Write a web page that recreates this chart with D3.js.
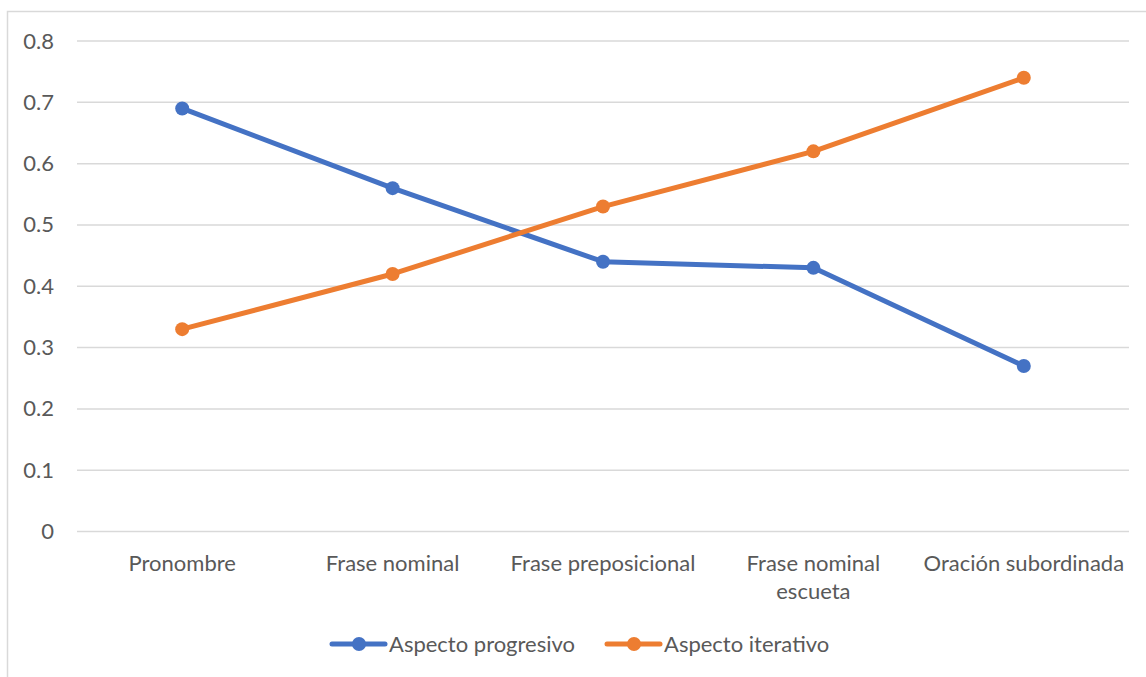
<!DOCTYPE html>
<html>
<head>
<meta charset="utf-8">
<script src="https://cdn.jsdelivr.net/npm/d3@7"></script>
<style>
  html, body { margin: 0; padding: 0; background: #fff; }
  svg { display: block; }
  text { font-family: Lato, "Open Sans", sans-serif; fill: #595959; }
</style>
</head>
<body>
<svg id="chart" width="1146" height="677"></svg>
<script>
const categories = ["Pronombre", "Frase nominal", "Frase preposicional", "Frase nominal escueta", "Oración subordinada"];
const categoryLines = [["Pronombre"], ["Frase nominal"], ["Frase preposicional"], ["Frase nominal", "escueta"], ["Oración subordinada"]];
const progresivo = [0.69, 0.56, 0.44, 0.43, 0.27];
const iterativo = [0.33, 0.42, 0.53, 0.62, 0.74];
const yTicks = [0, 0.1, 0.2, 0.3, 0.4, 0.5, 0.6, 0.7, 0.8];
const seriesNames = ["Aspecto progresivo", "Aspecto iterativo"];
const seriesColors = ["#4472C4", "#ED7D31"];

const svg = d3.select("#chart");
const plot = { left: 77, right: 1129, top: 41, bottom: 531.5 };
const fontSize = 22;

// chart frame
svg.append("rect")
  .attr("x", 7.5).attr("y", 11.5)
  .attr("width", 1160).attr("height", 700)
  .attr("fill", "none").attr("stroke", "#d9d9d9").attr("stroke-width", 1.5);

const x = d3.scaleBand().domain(categories).range([plot.left, plot.right]);
const y = d3.scaleLinear().domain([0, 0.8]).range([plot.bottom, plot.top]);

// gridlines
svg.append("g").selectAll("line").data(yTicks).join("line")
  .attr("x1", plot.left).attr("x2", plot.right)
  .attr("y1", d => y(d)).attr("y2", d => y(d))
  .attr("stroke", "#d9d9d9").attr("stroke-width", 1.5);

// y axis labels
const yAxis = d3.axisLeft(y).tickValues(yTicks).tickSize(0).tickPadding(0)
  .tickFormat(d => d === 0 ? "0" : d3.format(".1f")(d));
const yg = svg.append("g").attr("transform", `translate(54,0)`).call(yAxis);
yg.select(".domain").remove();
yg.selectAll("text").attr("font-size", fontSize).attr("font-family", null).attr("fill", "#595959");

// x axis labels
const xg = svg.append("g");
categoryLines.forEach((lines, i) => {
  const t = xg.append("text")
    .attr("x", x(categories[i]) + x.bandwidth() / 2)
    .attr("y", 571)
    .attr("text-anchor", "middle")
    .attr("font-size", fontSize);
  lines.forEach((ln, j) => {
    t.append("tspan").attr("x", x(categories[i]) + x.bandwidth() / 2)
      .attr("dy", j === 0 ? 0 : 28).text(ln);
  });
});

// series
const line = d3.line()
  .x((d, i) => x(categories[i]) + x.bandwidth() / 2)
  .y(d => y(d));

[progresivo, iterativo].forEach((vals, s) => {
  const g = svg.append("g");
  g.append("path").datum(vals)
    .attr("d", line)
    .attr("fill", "none")
    .attr("stroke", seriesColors[s])
    .attr("stroke-width", 5)
    .attr("stroke-linecap", "round")
    .attr("stroke-linejoin", "round");
  g.selectAll("circle").data(vals).join("circle")
    .attr("cx", (d, i) => x(categories[i]) + x.bandwidth() / 2)
    .attr("cy", d => y(d))
    .attr("r", 7)
    .attr("fill", seriesColors[s]);
});

// legend
const legendY = 644;
const legendItems = [{ x0: 332, text: seriesNames[0] }, { x0: 607, text: seriesNames[1] }];
legendItems.forEach((it, s) => {
  const g = svg.append("g");
  g.append("line")
    .attr("x1", it.x0).attr("x2", it.x0 + 53)
    .attr("y1", legendY).attr("y2", legendY)
    .attr("stroke", seriesColors[s]).attr("stroke-width", 5)
    .attr("stroke-linecap", "round");
  g.append("circle").attr("cx", it.x0 + 27).attr("cy", legendY).attr("r", 7)
    .attr("fill", seriesColors[s]);
  g.append("text").attr("x", it.x0 + 57).attr("y", legendY)
    .attr("dy", "0.35em").attr("font-size", fontSize).text(it.text);
});
</script>
</body>
</html>
